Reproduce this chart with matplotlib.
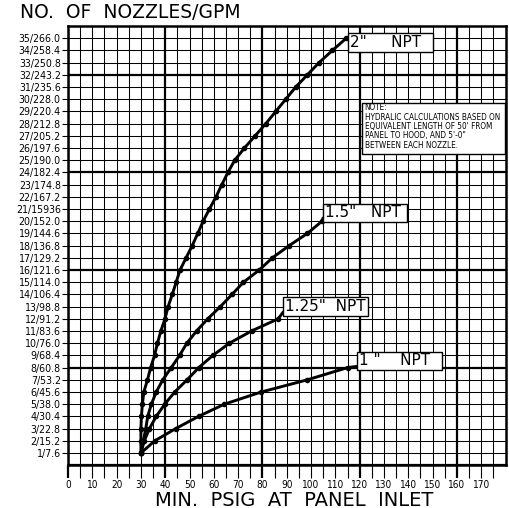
import matplotlib
matplotlib.use("Agg")
import matplotlib.pyplot as plt
from matplotlib.patches import Rectangle
import numpy as np

# ---------------- data ----------------
nozzles_2 = list(range(1, 36))
psig_2 = [30, 30, 30, 30.2, 30.6, 31.2, 32.7, 34, 35.6, 36.8, 38.2, 39.9, 41.2, 42.9,
          44.5, 46.1, 48.6, 51.1, 53.4, 55.6, 58.2, 60.9, 63.3, 65.8, 68.6, 72.6,
          77, 81.4, 85.5, 89.6, 93.7, 98.5, 103.3, 108.8, 114.5]

nozzles_15 = list(range(1, 21))
psig_15 = [30, 31, 32, 32.8, 34.3, 36.3, 39, 42.5, 45.9, 48.9, 52.9, 57.5, 62.7,
           67.5, 72.2, 78.7, 84.1, 91, 98.5, 104.5]

nozzles_125 = list(range(1, 13))
psig_125 = [30, 31.4, 33.5, 36.3, 39.8, 43.9, 49, 53.8, 59.6, 66.4, 75.5, 86.5]

nozzles_1 = list(range(1, 9))
psig_1 = [30, 35.7, 44.3, 53.7, 64.3, 79.5, 98.5, 115]

series_labels = ['2"     NPT', '1.5"   NPT', '1.25"  NPT', '1 "    NPT']

y_tick_labels = ["1/7.6", "2/15.2", "3/22.8", "4/30.4", "5/38.0", "6/45.6", "7/53.2",
                 "8/60.8", "9/68.4", "10/76.0", "11/83.6", "12/91.2", "13/98.8",
                 "14/106.4", "15/114.0", "16/121.6", "17/129.2", "18/136.8",
                 "19/144.6", "20/152.0", "21/15936", "22/167.2", "23/174.8",
                 "24/182.4", "25/190.0", "26/197.6", "27/205.2", "28/212.8",
                 "29/220.4", "30/228.0", "31/235.6", "32/243.2", "33/250.8",
                 "34/258.4", "35/266.0"]
x_tick_values = list(range(0, 171, 10))

note_lines = ["NOTE:",
              "HYDRALIC CALCULATIONS BASED ON",
              "EQUIVALENT LENGTH OF 50' FROM",
              "PANEL TO HOOD, AND 5'-0\"",
              "BETWEEN EACH NOZZLE."]

# ---------------- figure ----------------
W, H = 509, 508
fig = plt.figure(figsize=(W / 100, H / 100), dpi=100)
L, R, T, B = 68, 505.5, 26, 465.2
ax = fig.add_axes([L / W, (H - B) / H, (R - L) / W, (B - T) / H])
ax.set_xlim(0, 180)
ax.set_ylim(0, 36)

# grid
for xv in np.arange(0, 181, 5):
    heavy = (xv % 40 == 0)
    ax.axvline(xv, color='black', lw=1.6 if heavy else 0.75, zorder=1)
for yv in range(0, 37):
    heavy = (yv % 8 == 0)
    ax.axhline(yv, color='black', lw=1.6 if heavy else 0.75, zorder=1)

for s in ax.spines.values():
    s.set_linewidth(1.8)
    s.set_zorder(2)

# ticks
ax.set_xticks(x_tick_values)
ax.set_xticklabels([str(v) for v in x_tick_values], fontsize=7.2, fontstretch='condensed')
ax.set_xticks(np.arange(5, 181, 10), minor=True)
ax.tick_params(axis='x', which='both', direction='out', length=9, width=0.8, pad=1.5)
ax.set_yticks(range(1, 36))
ax.set_yticklabels(y_tick_labels, fontsize=7.6, fontstretch='condensed')
ax.tick_params(axis='y', which='both', direction='out', length=4, width=0.8, pad=1.2)
for t in ax.xaxis.get_major_ticks():
    if t.get_loc() % 40 == 0:
        t.tick1line.set_markeredgewidth(1.6)

# curves
series = [(psig_2, nozzles_2), (psig_15, nozzles_15),
          (psig_125, nozzles_125), (psig_1, nozzles_1)]
for xs, ys in series:
    ax.plot(xs, ys, color='black', lw=2.1, marker='o', ms=3, zorder=3,
            solid_capstyle='round')

# label boxes: (left x, bottom y, width, height) in data coords
label_boxes = [(115.2, 33.9, 35.0, 1.55), (104.9, 19.95, 34.6, 1.5),
               (88.5, 12.25, 35.0, 1.55), (118.9, 7.8, 35.0, 1.5)]
for (xs, ys), lab, (bx, by, bw, bh) in zip(series, series_labels, label_boxes):
    ey = min(max(ys[-1], by + 0.3), by + bh - 0.3)
    ax.plot([xs[-1], bx], [ys[-1], ey], color='black', lw=2.1, zorder=3,
            solid_capstyle='round')
    ax.add_patch(Rectangle((bx, by), bw, bh, fc='white', ec='black', lw=1.0, zorder=4))
    ax.text(bx + 0.9, by + bh / 2, lab, ha='left', va='center', fontsize=11,
            fontfamily='DejaVu Sans', zorder=5)

# note box
ax.add_patch(Rectangle((121.0, 25.5), 58.6, 4.2, fc='white', ec='black', lw=1.0, zorder=4))
for i, line in enumerate(note_lines):
    ax.text(122.0, 29.3 - i * 0.77, line, ha='left', va='center', fontsize=5.9,
            fontstretch='condensed', zorder=5)

# titles
fig.text(20 / W, 1 - 13 / H, "NO.  OF  NOZZLES/GPM", ha='left', va='center',
         fontsize=13.5, fontfamily='DejaVu Sans')
fig.text(294 / W, 1 - 500 / H, "MIN.  PSIG  AT  PANEL  INLET", ha='center', va='center',
         fontsize=14, fontfamily='DejaVu Sans')

fig.savefig("out.png", dpi=100, facecolor='white')
